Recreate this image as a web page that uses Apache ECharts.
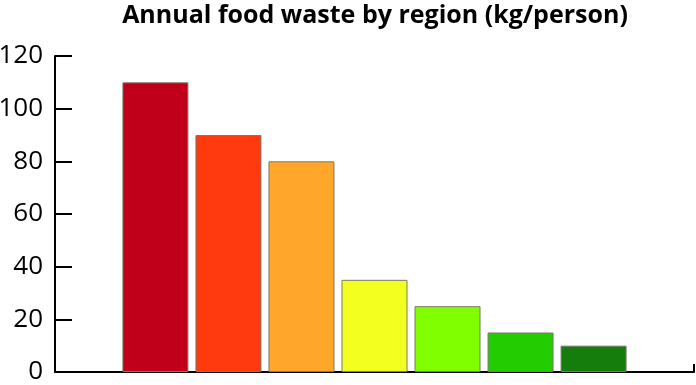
<!DOCTYPE html>
<html>
<head>
<meta charset="utf-8">
<script src="https://cdn.jsdelivr.net/npm/echarts@6/dist/echarts.min.js"></script>
<style>html,body{margin:0;padding:0;background:#fff;}#c{width:696px;height:385px;}</style>
</head>
<body>
<div id="c"></div>
<script>
const categories = ['Region 1','Region 2','Region 3','Region 4','Region 5','Region 6','Region 7'];
const values = [110, 90, 80, 35, 25, 15, 10];
const colors = ['#c0001a','#ff3a0e','#ffa62b','#f2ff1f','#80ff00','#22cc00','#157d0c'];
const yTicks = [0, 20, 40, 60, 80, 100, 120];

const chart = echarts.init(document.getElementById('c'), null, {renderer:'canvas'});
chart.setOption({
  animation: false,
  backgroundColor: '#fff',
  title: {
    text: 'Annual food waste by region (kg/person)',
    left: 375, top: 3, textAlign: 'center', padding: 0,
    textStyle: {fontFamily: 'Open Sans', fontWeight: 'bold', fontSize: 25, color: '#000'}
  },
  grid: {left: 55, right: 2, top: 56, bottom: 13, containLabel: false, outerBoundsMode: 'none'},
  xAxis: {
    type: 'value', min: -1.375, max: 7.375, interval: 8.75,
    axisLine: {show: true, onZero: false, lineStyle: {color: '#000', width: 2}},
    axisTick: {show: true, inside: true, length: 8, lineStyle: {color: '#000', width: 2}},
    axisLabel: {show: false}, splitLine: {show: false}
  },
  yAxis: {
    type: 'value', min: yTicks[0], max: yTicks[yTicks.length-1], interval: 20,
    axisLine: {show: true, onZero: false, lineStyle: {color: '#000', width: 2}},
    axisTick: {show: true, inside: true, length: 17, lineStyle: {color: '#000', width: 2}},
    axisLabel: {fontFamily: 'Open Sans', fontSize: 26, color: '#000', margin: 12},
    splitLine: {show: false}
  },
  series: [{
    type: 'bar',
    barWidth: 66,
    data: values.map((v, i) => ({value: [i, v], name: categories[i], itemStyle: {color: colors[i], borderColor: '#7a7a6a', borderWidth: 1}}))
  }]
});
</script>
</body>
</html>
